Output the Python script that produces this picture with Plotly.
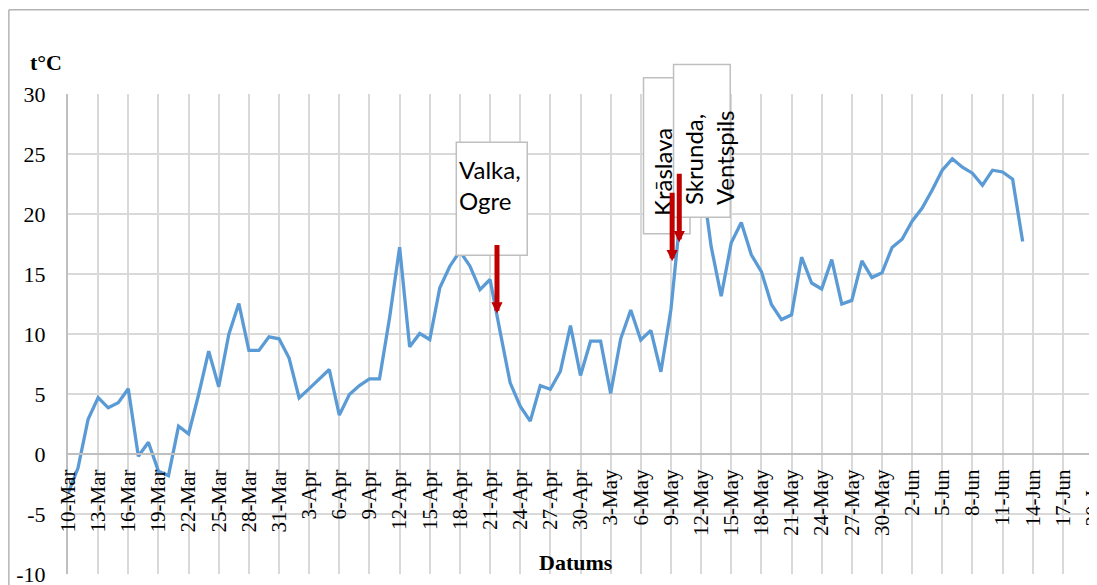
import pandas as pd
import plotly.graph_objects as go

# ---- data ----
start_date = "2013-03-10"
temperature = [
    -3.3, -1.15, 2.9, 4.7, 3.85, 4.27, 5.43, -0.18, 0.98, -1.43,
    -1.8, 2.32, 1.68, 4.96, 8.57, 5.6, 9.96, 12.54, 8.63, 8.63,
    9.76, 9.6, 8.0, 4.68, 5.45, 6.26, 7.04, 3.24, 4.96, 5.7,
    6.26, 6.26, 11.35, 17.23, 8.93, 10.04, 9.54, 13.85, 15.65, 16.9,
    15.65, 13.7, 14.54, 10.2, 5.93, 3.99, 2.74, 5.7, 5.4, 6.9,
    10.7, 6.54, 9.4, 9.4, 5.04, 9.6, 12.0, 9.5, 10.3, 6.85,
    12.04, 20.4, 22.0, 23.5, 17.3, 13.15, 17.6, 19.3, 16.6, 15.2,
    12.46, 11.2, 11.6, 16.4, 14.25, 13.75, 16.2, 12.5, 12.8, 16.1,
    14.7, 15.1, 17.2, 17.9, 19.4, 20.5, 22.0, 23.65, 24.6, 23.9,
    23.4, 22.4, 23.65, 23.5, 22.9, 17.7,
]
dates = pd.date_range(start_date, periods=len(temperature), freq="D")
y_ticks = [-10, -5, 0, 5, 10, 15, 20, 25, 30]
y_tick_text = ["-10", "-5", "0", "5", "10", "15", "20", "25", "30"]
x_range_end = "2013-06-20"
y_label = "t°C"
x_label = "Datums"

callout_labels = ["Valka,<br>Ogre", "Krāslava", "Skrunda,<br>Ventspils"]

# ---- helpers (layout positions) ----
t0 = pd.Timestamp(start_date)


def dd(days):
    return (t0 + pd.Timedelta(days=days)).strftime("%Y-%m-%d %H:%M:%S")


YMIN, YMAX = -10, 30


def yp(v):
    return (v - YMIN) / (YMAX - YMIN)


serif = "Liberation Serif"
sans = "Lato"
grid_c = "#d9d9d9"
axis_c = "#bfbfbf"
red = "#C00000"

fig = go.Figure()
fig.add_trace(go.Scatter(
    x=dates, y=temperature, mode="lines",
    line=dict(color="#5B9BD5", width=3.3),
    hoverinfo="skip", showlegend=False,
))

shapes = []
# callout boxes
for (x0, x1, y0, y1) in [
    (38.64, 45.7, 16.57, 25.98),
    (57.27, 61.9, 18.35, 31.35),
    (60.26, 65.9, 19.73, 32.46),
]:
    shapes.append(dict(type="rect", xref="x", yref="paper",
                       x0=dd(x0), x1=dd(x1), y0=yp(y0), y1=yp(y1),
                       line=dict(color=axis_c, width=1.5),
                       fillcolor="white", layer="above"))

# chart border (top and left)
shapes.append(dict(type="line", xref="paper", yref="paper",
                   x0=-0.0577, x1=1.01, y0=1.1757, y1=1.1757,
                   line=dict(color="#b4b4b4", width=1.5)))
shapes.append(dict(type="line", xref="paper", yref="paper",
                   x0=-0.0577, x1=-0.0577, y0=-0.05, y1=1.1757,
                   line=dict(color="#b4b4b4", width=1.5)))

annotations = [
    # callout texts
    dict(x=dd(38.7), y=22.4, xref="x", yref="y", text=callout_labels[0],
         showarrow=False, xanchor="left", yanchor="middle", align="left",
         font=dict(family=sans, size=24, color="black")),
    dict(x=dd(59.1), y=23.5, xref="x", yref="y", text=callout_labels[1],
         showarrow=False, xanchor="center", yanchor="middle", textangle=-90,
         font=dict(family=sans, size=24, color="black")),
    dict(x=dd(63.74), y=24.7, xref="x", yref="y", text=callout_labels[2],
         showarrow=False, xanchor="center", yanchor="middle", textangle=-90,
         align="left", font=dict(family=sans, size=24, color="black")),
]
# red arrows
for (xd, yv) in [(42.69, 11.7), (60.12, 16.07), (60.83, 17.65)]:
    annotations.append(dict(x=dd(xd), y=yv, xref="x", yref="y", text="",
                            showarrow=True, ax=0, ay=-70,
                            arrowhead=2, arrowsize=0.45, arrowwidth=5,
                            arrowcolor=red))
# axis titles
annotations.append(dict(x=-0.0212, y=1.065, xref="paper", yref="paper",
                        xanchor="center", yanchor="middle",
                        text="<b>" + y_label + "</b>", showarrow=False,
                        font=dict(family=serif, size=22, color="black")))
annotations.append(dict(x=0.4958, y=0.025, xref="paper", yref="paper",
                        xanchor="center", yanchor="middle",
                        text="<b>" + x_label + "</b>", showarrow=False,
                        font=dict(family=serif, size=22, color="black")))

fig.update_layout(
    width=1089, height=577,
    margin=dict(l=60, r=4, t=86, b=11, autoexpand=False),
    paper_bgcolor="white", plot_bgcolor="white",
    shapes=shapes, annotations=annotations,
    xaxis=dict(
        type="date", range=[start_date, x_range_end],
        tick0=start_date, dtick=3 * 86400000, tickformat="%-d-%b",
        tickangle=-90, ticks="", ticklabelstandoff=6,
        ticklabeloverflow="allow", automargin=False,
        tickfont=dict(family=serif, size=21, color="black"),
        showgrid=True, gridcolor=grid_c, gridwidth=1.5,
        showline=True, linecolor=axis_c, linewidth=2,
        anchor="free", position=yp(0), zeroline=False,
    ),
    yaxis=dict(
        range=[YMIN, YMAX], tickvals=y_ticks, ticktext=y_tick_text,
        ticks="", ticklabelstandoff=16, ticklabeloverflow="allow",
        automargin=False,
        tickfont=dict(family=serif, size=22, color="black"),
        showgrid=True, gridcolor=grid_c, gridwidth=1.5,
        showline=True, linecolor=axis_c, linewidth=2,
        zeroline=False,
    ),
)

fig.write_html("out.html")
